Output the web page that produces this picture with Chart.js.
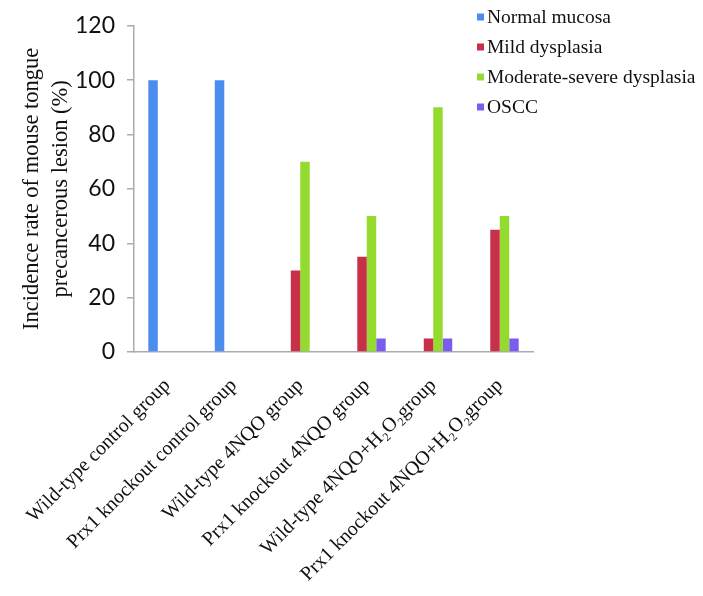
<!DOCTYPE html>
<html>
<head>
<meta charset="utf-8">
<script src="https://cdn.jsdelivr.net/npm/chart.js@4.4.1/dist/chart.umd.min.js"></script>
<style>
  html, body { margin: 0; padding: 0; background: #fff; }
  #wrap { width: 703px; height: 596px; }
</style>
</head>
<body>
<div id="wrap"><canvas id="chart" width="703" height="596"></canvas></div>
<script>
const groups = [
    'Wild-type control group',
    'Prx1 knockout control group',
    'Wild-type 4NQO group',
    'Prx1 knockout 4NQO group',
    'Wild-type 4NQO+H\u2082O\u2082group',
    'Prx1 knockout 4NQO+H\u2082O\u2082group'
];
const seriesNames = ['Normal mucosa', 'Mild dysplasia', 'Moderate-severe dysplasia', 'OSCC'];
const normalMucosa = [100, 100, 0, 0, 0, 0];
const mildDysplasia = [0, 0, 30, 35, 5, 45];
const moderateSevere = [0, 0, 70, 50, 90, 50];
const oscc = [0, 0, 0, 5, 5, 5];
const yTicks = [0, 20, 40, 60, 80, 100, 120];

const colors = ['#4b8def', '#c8304a', '#95db2f', '#7a5cee'];
const axisColor = '#a9adad';
const serif = '"Liberation Serif", "Times New Roman", serif';

// legend drawn by hand so it can sit over the top right of the plot
const cornerLegend = {
    id: 'cornerLegend',
    afterDraw(chart) {
        const ctx = chart.ctx;
        ctx.save();
        ctx.font = '19.5px ' + serif;
        ctx.textBaseline = 'middle';
        ctx.textAlign = 'left';
        chart.data.datasets.forEach((ds, i) => {
            const y = 17 + i * 30;
            ctx.fillStyle = ds.backgroundColor;
            ctx.fillRect(477, y - 3.5, 7, 7);
            ctx.fillStyle = '#111';
            ctx.fillText(ds.label, 487, y + 1);
        });
        ctx.restore();
    }
};

const values = [normalMucosa, mildDysplasia, moderateSevere, oscc];

new Chart(document.getElementById('chart').getContext('2d'), {
    type: 'bar',
    data: {
        labels: groups,
        datasets: seriesNames.map((name, i) => ({
            label: name,
            data: values[i],
            backgroundColor: colors[i],
            borderWidth: 0,
            categoryPercentage: 0.57,
            barPercentage: 1.0
        }))
    },
    options: {
        responsive: false,
        animation: false,
        layout: { padding: { top: 17, right: 170, bottom: 0, left: 0 } },
        plugins: {
            legend: { display: false },
            tooltip: { enabled: false }
        },
        scales: {
            x: {
                grid: { display: true, drawOnChartArea: false, drawTicks: false },
                border: { color: axisColor, width: 1.5 },
                ticks: {
                    autoSkip: false,
                    minRotation: 45,
                    maxRotation: 45,
                    padding: 22,
                    color: '#111',
                    font: { family: serif, size: 20 }
                },
                afterFit: (s) => {
                    s.height = 244;
                    s.paddingLeft = 0;
                    s.paddingRight = 0;
                }
            },
            y: {
                min: 0,
                max: 120,
                afterBuildTicks: (s) => { s.ticks = yTicks.map(v => ({ value: v })); },
                grid: { drawOnChartArea: false, tickLength: 7, color: axisColor, lineWidth: 1.5 },
                border: { color: axisColor, width: 1.5 },
                ticks: {
                    padding: 12,
                    color: '#111',
                    font: { family: 'Lato, "Open Sans", sans-serif', size: 23 }
                },
                title: {
                    display: true,
                    text: ['Incidence rate of mouse tongue', 'precancerous lesion (%)'],
                    color: '#111',
                    font: { family: serif, size: 22.5, lineHeight: 1.28 },
                    padding: { top: 18, bottom: 0 }
                },
                afterFit: (s) => { s.width = 134; }
            }
        }
    },
    plugins: [cornerLegend]
});
</script>
</body>
</html>
